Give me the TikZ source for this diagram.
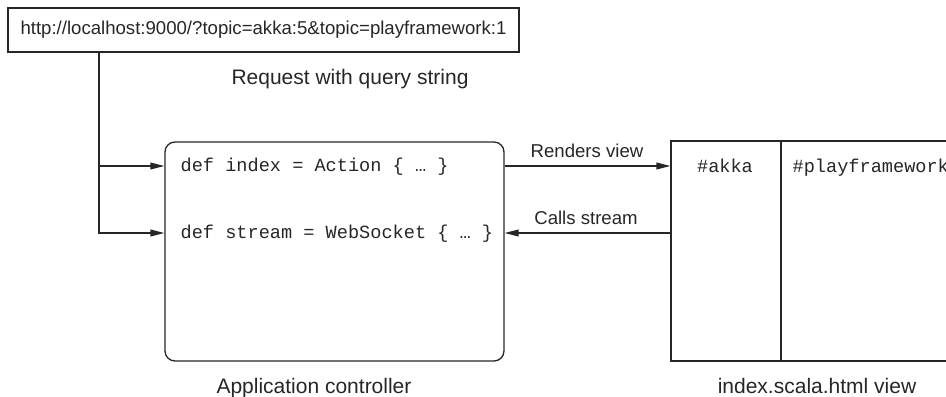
\documentclass[tikz,border=0pt]{standalone}
\usepackage{fontspec}
\setmainfont{Liberation Sans}
\setmonofont{Liberation Mono}
\usetikzlibrary{arrows.meta}

\begin{document}
\begin{tikzpicture}[
  x=0.5pt, y=-0.5pt,
  line width=0.65pt, color=black!85,
  every node/.style={font=\fontsize{9.3}{11}\selectfont},
  urlbox/.style={draw, minimum width=255.5pt, minimum height=22pt, inner sep=0pt},
  ctrlbox/.style={draw, rounded corners=5pt, minimum width=169.5pt, minimum height=109.5pt},
  viewbox/.style={draw, minimum width=170pt, minimum height=110pt},
  code/.style={font=\ttfamily\fontsize{9.3}{11}\selectfont, inner sep=0pt},
  caption/.style={font=\fontsize{10.5}{12}\selectfont, anchor=base, inner sep=0pt},
  lbl/.style={anchor=base, inner sep=0pt},
  arr/.style={-{Triangle[length=7pt, width=3.4pt]}}
]
\useasboundingbox (0,0) rectangle (946,396);
\clip (0,0) rectangle (946,396);

% boxes
\node[urlbox] (url) at (263.5,30) {http://localhost:9000/?topic=akka:5\&topic=playframework:1};
\node[ctrlbox] (ctrl) at (334.5,251.5) {};
\node[viewbox] (view) at (841,251) {};
\coordinate (split) at (781,0);
\draw (view.north -| split) -- (view.south -| split);

% code lines and view columns
\node[code, anchor=base west] (index) at (180,171) {def index = Action \{ … \}};
\node[code, anchor=base west] (stream) at (180,238) {def stream = WebSocket \{ … \}};
\node[code, anchor=base] (akka) at (725,172) {\#akka};
\node[code, anchor=base west] (play) at (792,172) {\#playframework};

% rows for connectors
\coordinate (rowA) at (0,166);
\coordinate (rowB) at (0,233);
\coordinate (tap) at (99,166);

\draw[arr] (url.south -| tap) |- (rowB -| ctrl.west);
\draw[arr] (tap) -- (rowA -| ctrl.west);
\draw[arr] (rowA -| ctrl.east) -- (rowA -| view.west);
\draw[arr] (rowB -| view.west) -- (rowB -| ctrl.east);

% labels
\node[caption] (request) at (350,84) {Request with query string};
\node[lbl] (renders) at (587,157) {Renders view};
\node[lbl] (calls) at (586,224) {Calls stream};
\node[caption] (ctrlname) at (314,393) {Application controller};
\node[caption] (viewname) at (817,393) {index.scala.html view};
\end{tikzpicture}
\end{document}
